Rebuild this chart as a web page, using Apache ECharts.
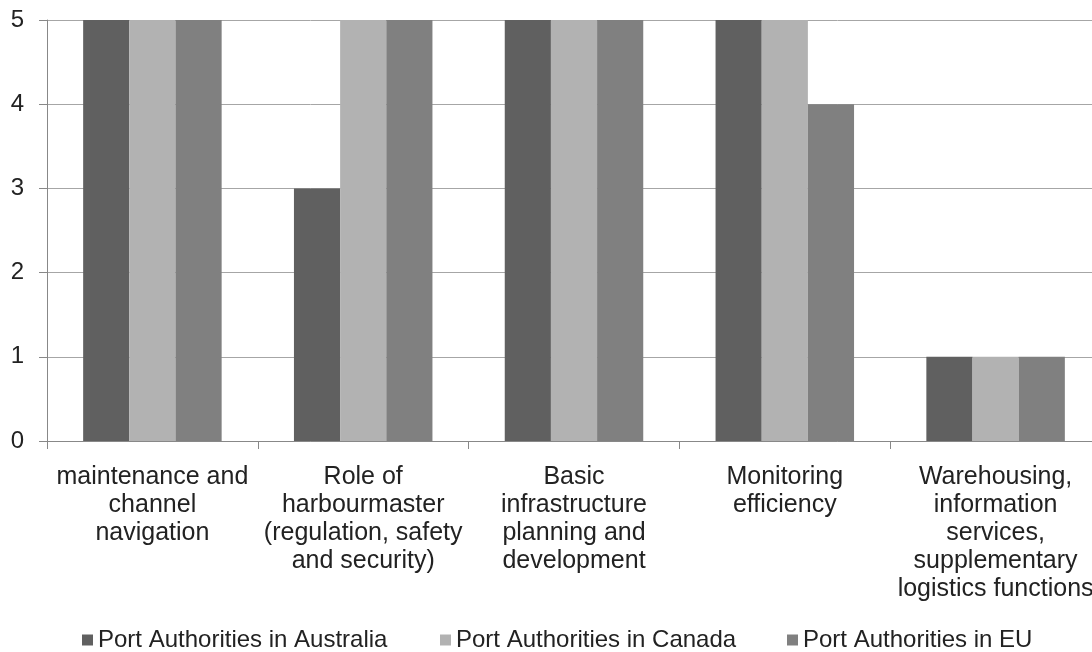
<!DOCTYPE html>
<html>
<head>
<meta charset="utf-8">
<script src="https://cdn.jsdelivr.net/npm/echarts@6/dist/echarts.min.js"></script>
<style>
html,body{margin:0;padding:0;background:#fff;overflow:hidden;width:1092px;height:652px;}
#chart{width:1101px;height:652px;}
</style>
</head>
<body>
<div id="chart"></div>
<script>
const categories = [
  "maintenance and\nchannel\nnavigation",
  "Role of\nharbourmaster\n(regulation, safety\nand security)",
  "Basic\ninfrastructure\nplanning and\ndevelopment",
  "Monitoring\nefficiency",
  "Warehousing,\ninformation\nservices,\nsupplementary\nlogistics functions"
];
const seriesNames = ["Port Authorities in Australia", "Port Authorities in Canada", "Port Authorities in EU"];
const australia = [5, 3, 5, 5, 1];
const canada = [5, 5, 5, 5, 1];
const eu = [5, 5, 5, 4, 1];
const yTicks = [0, 1, 2, 3, 4, 5];

const colors = ["#606060", "#b2b2b2", "#808080"];
const legendLeft = [77, 435, 782];
const font = '"Liberation Sans", Arial, sans-serif';
const chart = echarts.init(document.getElementById('chart'), null, {renderer: 'canvas'});
const data = [australia, canada, eu];
chart.setOption({
  animation: false,
  backgroundColor: '#ffffff',
  color: colors,
  textStyle: {fontFamily: font},
  grid: {left: 47, top: 20, right: 0, height: 421, containLabel: false},
  legend: seriesNames.map((n, i) => ({
    left: legendLeft[i], top: 623,
    itemWidth: 11, itemHeight: 11,
    icon: 'rect',
    textStyle: {fontSize: 24, color: '#222', fontFamily: font, padding: [0, 0, 0, 0]},
    data: [n]
  })),
  xAxis: {
    type: 'category',
    data: categories,
    axisLine: {show: true, lineStyle: {color: '#888', width: 1}},
    axisTick: {show: true, length: 8, alignWithLabel: false, lineStyle: {color: '#888'}},
    axisLabel: {interval: 0, margin: 22, fontSize: 25, lineHeight: 28, color: '#222', fontFamily: font, hideOverlap: false},
    splitLine: {show: false}
  },
  yAxis: {
    type: 'value',
    min: yTicks[0], max: yTicks[yTicks.length - 1], interval: 1,
    axisLine: {show: true, lineStyle: {color: '#888', width: 1}},
    axisTick: {show: true, length: 8, lineStyle: {color: '#888'}},
    axisLabel: {margin: 23, fontSize: 24, color: '#222', fontFamily: font},
    splitLine: {show: true, lineStyle: {color: '#a6a6a6', width: 1}}
  },
  series: seriesNames.map((n, i) => ({
    name: n,
    type: 'bar',
    data: data[i],
    barGap: '0%',
    barCategoryGap: '34.3%',
    itemStyle: {color: colors[i]}
  }))
});
</script>
</body>
</html>
